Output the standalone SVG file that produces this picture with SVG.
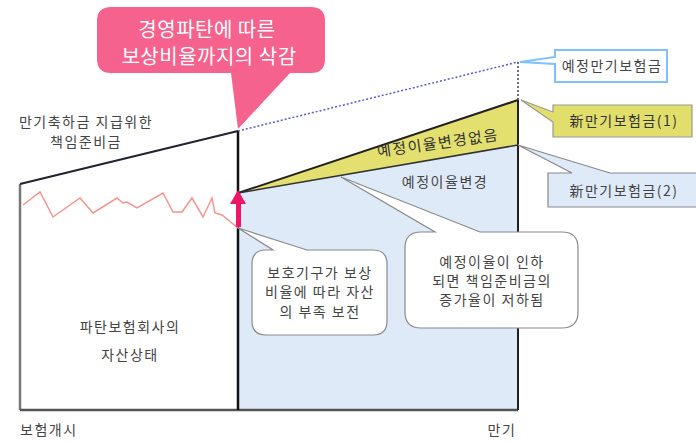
<svg xmlns="http://www.w3.org/2000/svg" width="696" height="444" viewBox="0 0 696 444">
<style>
text{font-family:"Noto Sans CJK KR","Noto Sans",sans-serif;font-size:14px;fill:#444;letter-spacing:1.5px}
.c{text-anchor:middle}
.w{fill:#fff;font-size:20px;letter-spacing:0.5px}
.callout{fill:#fff;stroke:#8a8a8a;stroke-width:1.2}
</style>
<rect width="696" height="444" fill="#fff"/>
<g id="chart">
<polygon points="238,193 518,145 518,410 238,410" fill="#deeaf8"/>
<polygon points="238,193 518,100 518,145" fill="#e4e070"/>
<line x1="238" y1="193" x2="518" y2="100" stroke="#222" stroke-width="2"/>
<line x1="238" y1="193" x2="518" y2="145" stroke="#333" stroke-width="1.5"/>
<line x1="20" y1="184" x2="20" y2="410" stroke="#777" stroke-width="2.5"/>
<line x1="20" y1="410" x2="518" y2="410" stroke="#555" stroke-width="2.5"/>
<line x1="20" y1="184" x2="238" y2="131" stroke="#223" stroke-width="2"/>
<line x1="238" y1="131" x2="238" y2="410" stroke="#111" stroke-width="2.5"/>
<line x1="518" y1="100" x2="518" y2="410" stroke="#222" stroke-width="2"/>
<line x1="518" y1="62" x2="518" y2="100" stroke="#444" stroke-width="1.5" stroke-dasharray="2,2"/>
<line x1="238" y1="131" x2="518" y2="62" stroke="#5a5acc" stroke-width="1.5" stroke-dasharray="2,2"/>
<polyline points="23,205 40,192 53,217 80,198 93,213 117,198 123,203 127,202 137,208 163,193 173,212 182,212 192,198 203,217 212,198 215,213 222,215 238,228" fill="none" stroke="#f4948e" stroke-width="1.5"/>
<text x="445" y="187" class="c">예정이율변경</text>
<text transform="translate(438,143.5) rotate(-8)" x="0" y="5" class="c" style="font-size:15px;fill:#333">예정이율변경없음</text>
<text x="86" y="127" class="c">만기축하금 지급위한</text>
<text x="86" y="147" class="c">책임준비금</text>
<text x="130" y="332" class="c">파탄보험회사의</text>
<text x="130" y="360" class="c">자산상태</text>
<text x="20" y="435">보험개시</text>
<text x="502" y="435" class="c">만기</text>
</g>
<g id="connectors">
<rect x="236" y="202" width="5" height="25" fill="#ee1566"/>
<polygon points="230,204 238,190 246,204" fill="#ee1566"/>
</g>
<g id="node-cut">
<path d="M111,7 H311 Q325,7 325,21 V59 Q325,73 311,73 H290 L238,129 L231,73 H111 Q97,73 97,59 V21 Q97,7 111,7 Z" fill="#f5628d"/>
<text x="207" y="37" class="c w">경영파탄에 따른</text>
<text x="209" y="64" class="c w">보상비율까지의 삭감</text>
</g>
<g id="node-planned">
<path d="M555,50 H667 V82 H555 V64 L520,62 L555,57 Z" fill="#fff" stroke="#80c0ff" stroke-width="2"/>
<text x="612" y="71" class="c">예정만기보험금</text>
</g>
<g id="node-new1">
<path d="M553,105 H692 V137 H553 V122 L521,100 L553,112 Z" fill="#e2de6c" stroke="#999" stroke-width="1.2"/>
<text x="624" y="126" class="c" style="fill:#333">新만기보험금(1)</text>
</g>
<g id="node-new2">
<path d="M548,173 H572 L518,145 L610,173 H700 V207 H548 Z" fill="#deeaf8" stroke="#888" stroke-width="1.2"/>
<text x="624" y="196" class="c">新만기보험금(2)</text>
</g>
<g id="node-protect">
<path class="callout" d="M266,250 H273 L238,228 L307,250 H373 Q387,250 387,264 V321 Q387,335 373,335 H266 Q252,335 252,321 V264 Q252,250 266,250 Z"/>
<text x="320" y="278" class="c">보호기구가 보상</text>
<text x="320" y="297" class="c">비율에 따라 자산</text>
<text x="320" y="317" class="c">의 부족 보전</text>
</g>
<g id="node-rate">
<path class="callout" d="M421,232 H435 L341,177 L480,232 H562 Q578,232 578,248 V312 Q578,328 562,328 H421 Q405,328 405,312 V248 Q405,232 421,232 Z"/>
<text x="492" y="267" class="c">예정이율이 인하</text>
<text x="492" y="286" class="c">되면 책임준비금의</text>
<text x="492" y="305" class="c">증가율이 저하됨</text>
</g>
</svg>
